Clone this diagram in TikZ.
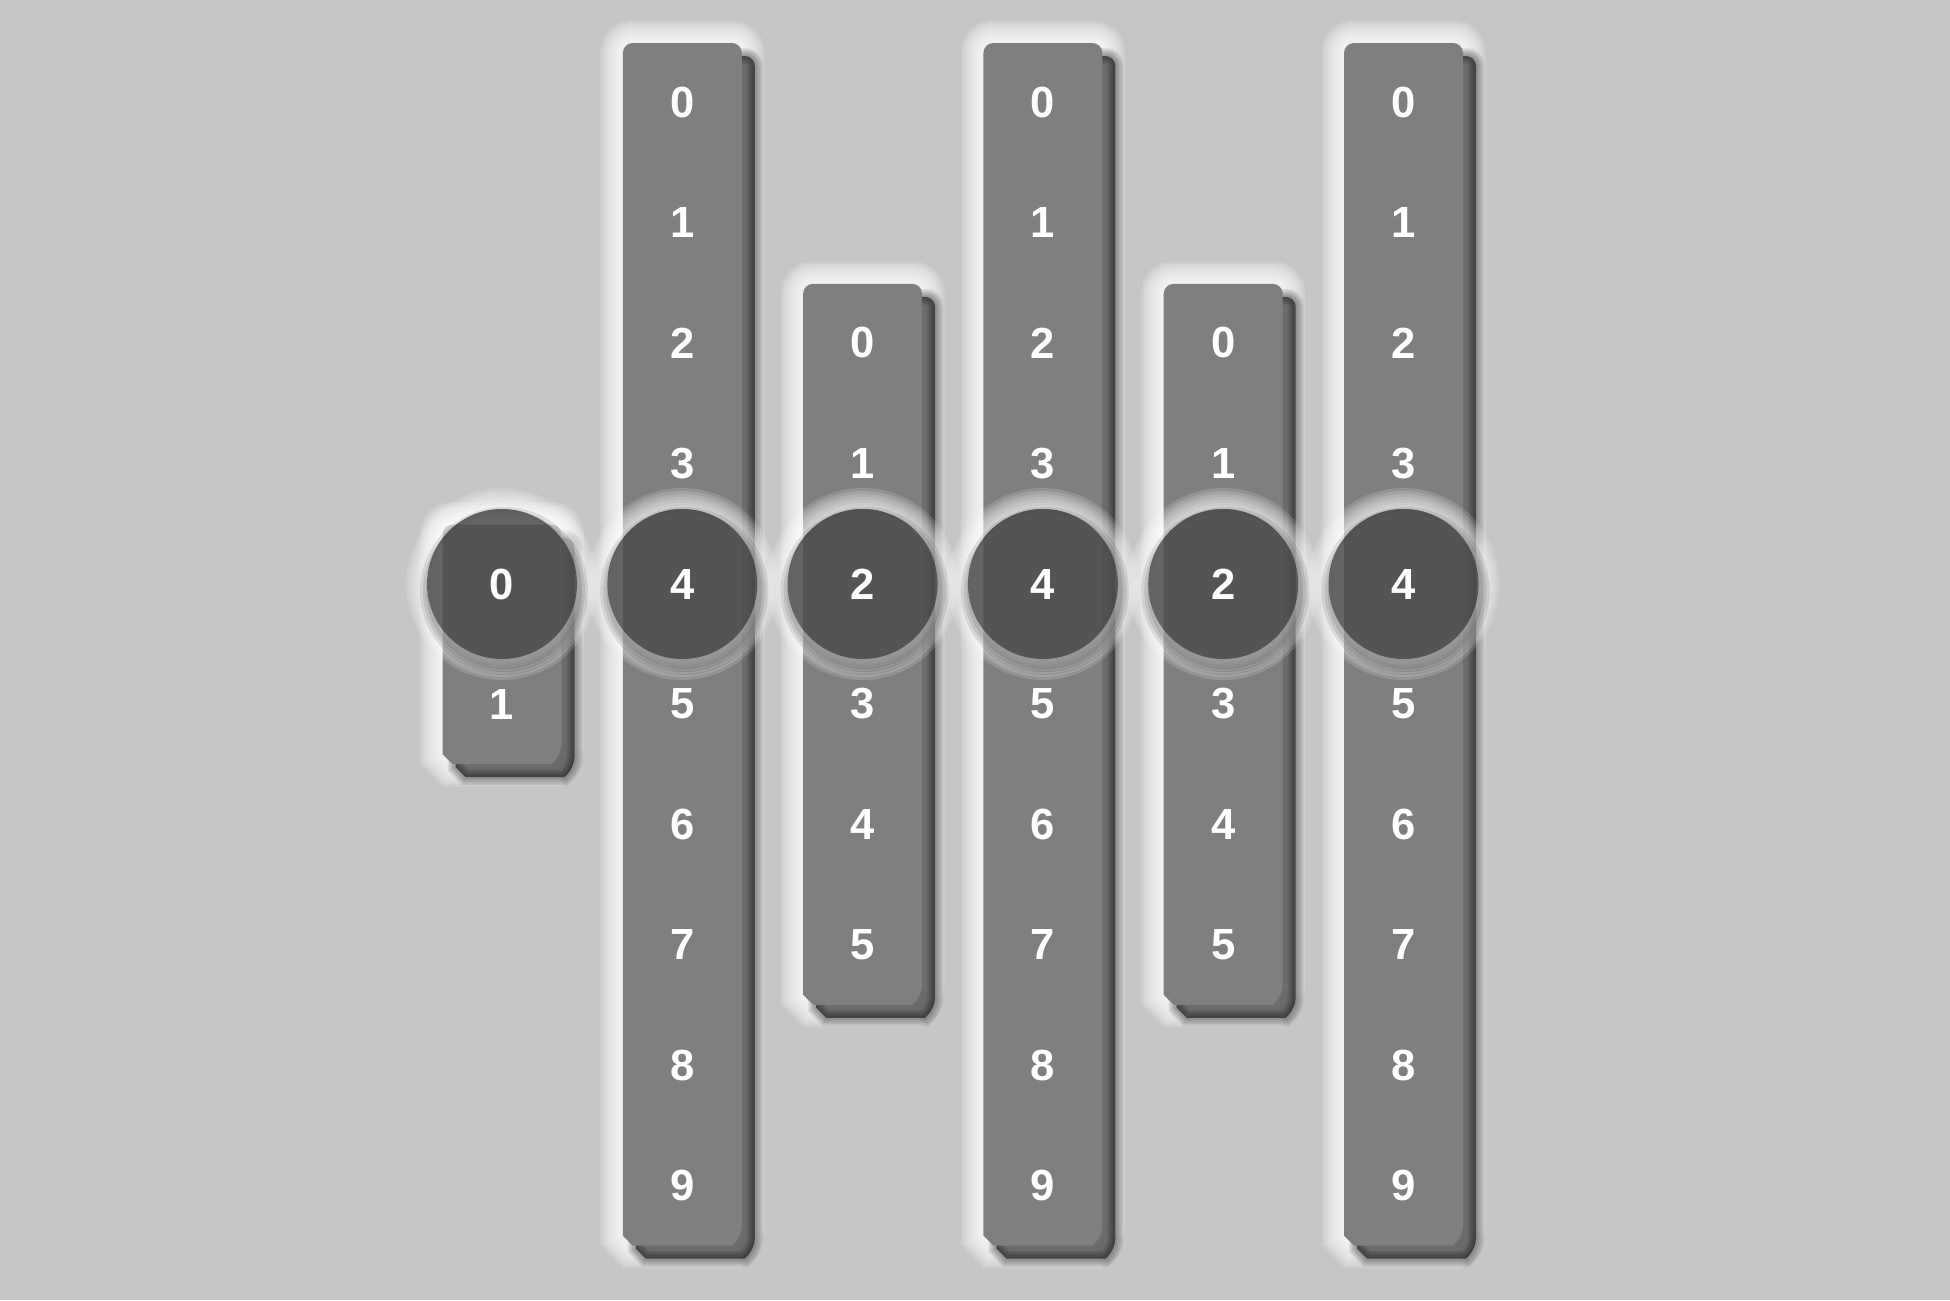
\documentclass[tikz,border=0pt]{standalone}
\usepackage{fontspec}
\setsansfont{Liberation Sans}
\definecolor{bgGray}{HTML}{C6C6C6}
\definecolor{stripGray}{HTML}{7F7F7F}
\definecolor{lensGray}{HTML}{4D4D4D}
\usetikzlibrary{positioning}
\tikzset{
  digit/.style={text=white, font=\sffamily\bfseries\fontsize{12.4}{14}\selectfont, inner sep=0pt},
  strip outline/.style={insert path={(\xc-59.5,\yb-10) [rounded corners=1mm] |- (\xc,\yt) -| (\xc+59.5,\yb-10) [sharp corners] -- (\xc+49.5,\yb) -- (\xc-49.5,\yb) -- cycle}},
  lens/.style={circle, fill=lensGray, fill opacity=0.85, text opacity=1, minimum size=15mm, digit}
}

\begin{document}
\begin{tikzpicture}[x=0.1mm, y=-0.1mm]
\fill[bgGray] (0,0) rectangle (1950,1300);
\useasboundingbox (0,0) rectangle (1950,1300);
\foreach \c/\first/\last in {1/4/5, 2/0/9, 3/2/7, 4/0/9, 5/2/7, 6/0/9}{
  \pgfmathsetmacro\xc{502+180.3*(\c-1)}
  \pgfmathsetmacro\yt{102+120.4*\first-59}
  \pgfmathsetmacro\yb{102+120.4*\last+60}
  \foreach \w in {9,8,...,1}
    \draw[white, opacity=0.16, line width=\w*0.5mm, strip outline];
  \foreach \w in {16,13,10,7,4}
    \draw[black, opacity=0.08, line width=\w*0.1mm, xshift=1.3mm, yshift=-1.3mm, strip outline];
  \fill[black, opacity=0.55, xshift=1.3mm, yshift=-1.3mm, strip outline];
  \fill[stripGray, strip outline];
  \foreach \k in {\first,...,\last}{
    \pgfmathtruncatemacro\lab{\k-\first}
    \ifnum\k=4\else
      \node[digit] (d\c-\lab) at (\xc,102+120.4*\k) {\lab};
    \fi
  }
}
\foreach \c/\lab in {1/0, 2/4, 3/2, 4/4, 5/2, 6/4}{
  \pgfmathsetmacro\xc{502+180.3*(\c-1)}
  \foreach \r in {78,81,...,96}
    \fill[white, opacity=0.15, even odd rule] (\xc,584) circle[radius=\r] (\xc,584) circle[radius=75];
  \foreach \r in {78,81,84}
    \fill[black, opacity=0.1, even odd rule] (\xc+2,591) circle[radius=\r] (\xc,584) circle[radius=75];
  \node[lens] (lens\c) at (\xc,584) {\lab};
}
\end{tikzpicture}
\end{document}
